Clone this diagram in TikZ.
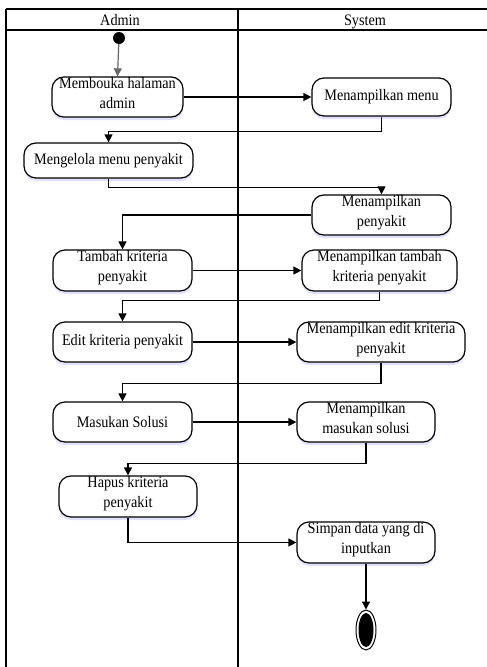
\documentclass[tikz,border=0pt]{standalone}
\usepackage{fontspec}
\setmainfont[FakeStretch=0.89]{Liberation Serif}
\usetikzlibrary{arrows.meta,shadows,shapes.geometric}
% zero-width strut that lifts a two-line label towards the top border
\newcommand\liftlabel{\rule[-9pt]{0pt}{9pt}}
\begin{document}
\begin{tikzpicture}[x=1pt,y=-1pt,
  lane/.style={line width=1.4pt,black},
  act/.style={draw,line width=1.2pt,rounded corners=12pt,align=center,
    inner sep=0pt,font=\fontsize{16}{20}\selectfont,fill=white,
    drop shadow={fill=blue!40,opacity=0.3,shadow xshift=0pt,shadow yshift=-3pt}},
  flow/.style={line width=1.2pt,-{Triangle[length=8pt,width=8pt]}},
  hdr/.style={font=\fontsize{16}{18}\selectfont,anchor=base,inner sep=0pt}]
\useasboundingbox (0,0) rectangle (487,667);

% swimlane frame
\draw[line width=2pt] (6,9) -- (487,9);
\draw[lane] (6,30) -- (487,30);
\draw[lane] (6,9) -- (6,667);
\draw[lane] (238,9) -- (238,667);
\node[hdr] (hadmin) at (120,25.5) {Admin};
\node[hdr] (hsys) at (365,25.5) {System};

% start node
\node[circle,fill=black,minimum size=12pt,inner sep=0pt] (start) at (119,38) {};

% activities
\node[act,minimum width=131pt,minimum height=38pt] (n1) at (117.5,97) {Membouka halaman\\admin\liftlabel};
\node[act,minimum width=139pt,minimum height=38pt] (n2) at (381.5,97) {Menampilkan menu};
\node[act,minimum width=169pt,minimum height=35pt] (n3) at (108.5,160.5) {Mengelola menu penyakit};
\node[act,minimum width=139pt,minimum height=36pt] (n4) at (381.5,215) {Menampilkan\\penyakit\liftlabel};
\node[act,minimum width=139pt,minimum height=41pt] (n5) at (122.5,270.5) {Tambah kriteria\\penyakit\liftlabel};
\node[act,minimum width=155pt,minimum height=41pt] (n6) at (379.5,270.5) {Menampilkan tambah\\kriteria penyakit\liftlabel};
\node[act,minimum width=139pt,minimum height=40pt] (n7) at (122.5,342) {Edit kriteria penyakit};
\node[act,minimum width=168pt,minimum height=40pt] (n8) at (381,342) {Menampilkan edit kriteria\\penyakit\liftlabel};
\node[act,minimum width=139pt,minimum height=40pt] (n9) at (122.5,422) {Masukan Solusi};
\node[act,minimum width=138pt,minimum height=40pt] (n10) at (366,422) {Menampilkan\\masukan solusi\liftlabel};
\node[act,minimum width=138pt,minimum height=41pt] (n11) at (128,496.5) {Hapus kriteria\\penyakit\liftlabel};
\node[act,minimum width=138pt,minimum height=41pt] (n12) at (366,542.5) {Simpan data yang di\\inputkan\liftlabel};

% end node
\node[ellipse,draw,line width=1pt,minimum width=20pt,minimum height=40pt,inner sep=0pt] (end) at (366,630) {};
\fill (end.center) ellipse (7.5pt and 17pt);

% control flow
\draw[flow,gray!80!black] (start) -- (n1.north);
\draw[flow] (n1.east) -- (n2.west);
\draw[flow] (n2.south) -- ++(0,15) -| (n3.north);
\draw[flow] (n3.south) -- ++(0,9) -| (n4.north);
\draw[flow] (n4.west) -| (n5.north);
\draw[flow] (n5.east) -- (n6.west);
\draw[flow] (n6.south) -- ++(0,9) -| (n7.north);
\draw[flow] (n7.east) -- (n8.west);
\draw[flow] (n8.south) -- ++(0,21) -| (n9.north);
\draw[flow] (n9.east) -- (n10.west);
\draw[flow] (n10.south) -- ++(0,21) -| (n11.north);
\draw[flow] (n11.south) |- (n12.west);
\draw[flow] (n12.south) -- (end.north);
\end{tikzpicture}
\end{document}
